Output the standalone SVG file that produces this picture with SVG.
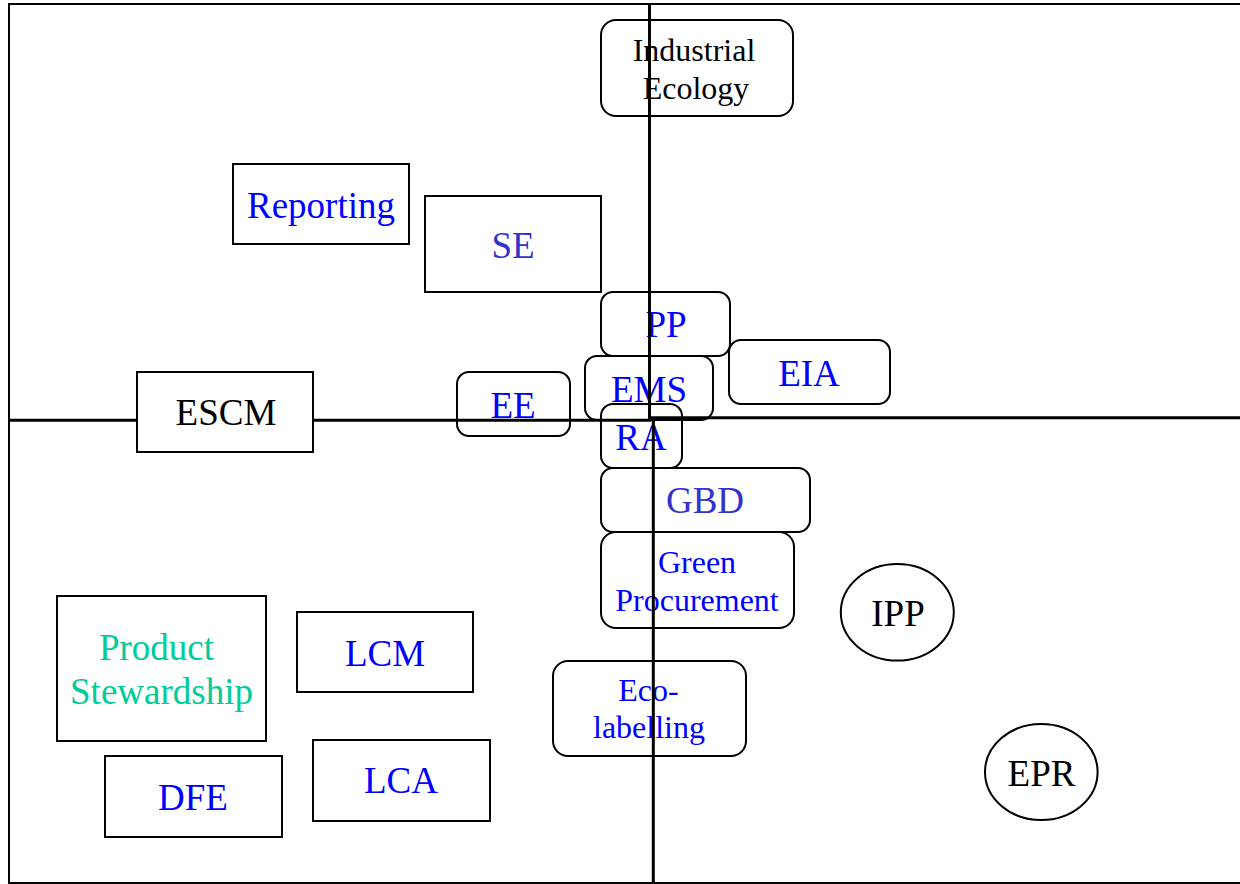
<svg xmlns="http://www.w3.org/2000/svg" width="1240" height="884" viewBox="0 0 1240 884">
<style>
  .box{fill:none;stroke:#000;stroke-width:2}
  .sq{fill:#fff;stroke:#000;stroke-width:2}
  .t{font-family:"Liberation Serif","Times New Roman",serif;font-size:37px;text-anchor:middle}
  .s{font-size:32px}
  .blue{fill:#0000FF}
  .mid{fill:#3333CC}
  .blk{fill:#000}
  .grn{fill:#00CC99}
  .axis{stroke:#000;stroke-width:3;fill:none}
</style>
<rect x="0" y="0" width="1240" height="884" fill="#fff"/>
<rect x="9" y="4" width="1240" height="879" fill="none" stroke="#000" stroke-width="2"/>

<g id="industrial-ecology">
  <rect class="box" x="601" y="20" width="192" height="96" rx="15"/>
  <text class="t s blk" x="694" y="61">Industrial</text>
  <text class="t s blk" x="696" y="99">Ecology</text>
</g>
<g id="reporting">
  <rect class="sq" x="233" y="164" width="176" height="80"/>
  <text class="t blue" x="321" y="218">Reporting</text>
</g>
<g id="se">
  <rect class="sq" x="425" y="196" width="176" height="96"/>
  <text class="t mid" x="513" y="258">SE</text>
</g>
<g id="pp">
  <rect class="box" x="601" y="292" width="129" height="64" rx="12"/>
  <text class="t blue" x="666" y="337">PP</text>
</g>
<g id="eia">
  <rect class="box" x="729" y="340" width="161" height="64" rx="12"/>
  <text class="t blue" x="809" y="386">EIA</text>
</g>
<g id="ems">
  <rect class="box" x="585" y="356" width="128" height="64" rx="12"/>
  <text class="t blue" x="649" y="402">EMS</text>
</g>
<g id="ee">
  <rect class="box" x="457" y="372" width="113" height="64" rx="12"/>
  <text class="t blue" x="513" y="418">EE</text>
</g>
<g id="escm">
  <rect class="sq" x="137" y="372" width="176" height="80"/>
  <text class="t blk" x="226" y="425">ESCM</text>
</g>
<g id="ra">
  <rect class="box" x="601" y="404" width="81" height="64" rx="12"/>
  <text class="t blue" x="641" y="450">RA</text>
</g>
<g id="gbd">
  <rect class="box" x="601" y="468" width="209" height="64" rx="12"/>
  <text class="t mid" x="705" y="513">GBD</text>
</g>
<g id="green-procurement">
  <rect class="box" x="601" y="532" width="193" height="96" rx="15"/>
  <text class="t s blue" x="697" y="573">Green</text>
  <text class="t s blue" x="697" y="611">Procurement</text>
</g>
<g id="eco-labelling">
  <rect class="box" x="553" y="661" width="193" height="95" rx="15"/>
  <text class="t s blue" x="648.5" y="701">Eco-</text>
  <text class="t s blue" x="649" y="738">labelling</text>
</g>
<g id="product-stewardship">
  <rect class="sq" x="57" y="596" width="209" height="145"/>
  <text class="t grn" x="156.5" y="660">Product</text>
  <text class="t grn" x="161.5" y="704">Stewardship</text>
</g>
<g id="lcm">
  <rect class="sq" x="297" y="612" width="176" height="80"/>
  <text class="t blue" x="385" y="666">LCM</text>
</g>
<g id="dfe">
  <rect class="sq" x="105" y="756" width="177" height="81"/>
  <text class="t blue" x="193" y="810">DFE</text>
</g>
<g id="lca">
  <rect class="sq" x="313" y="740" width="177" height="81"/>
  <text class="t blue" x="401" y="793">LCA</text>
</g>
<g id="ipp">
  <ellipse class="box" cx="897.3" cy="612.3" rx="56.5" ry="48.3"/>
  <text class="t blk" x="898" y="626">IPP</text>
</g>
<g id="epr">
  <ellipse class="box" cx="1041.3" cy="772" rx="56.3" ry="48"/>
  <text class="t blk" x="1041.5" y="786">EPR</text>
</g>

<g id="connectors">
  <line class="axis" x1="9" y1="420.3" x2="137" y2="420.3"/>
  <line class="axis" x1="313" y1="420.3" x2="651" y2="420.3"/>
  <line class="axis" x1="650" y1="417.7" x2="1240" y2="417.7"/>
  <line class="axis" x1="649.5" y1="4" x2="649.5" y2="420"/>
  <line class="axis" x1="653.3" y1="417" x2="653.3" y2="884"/>
</g>
</svg>
